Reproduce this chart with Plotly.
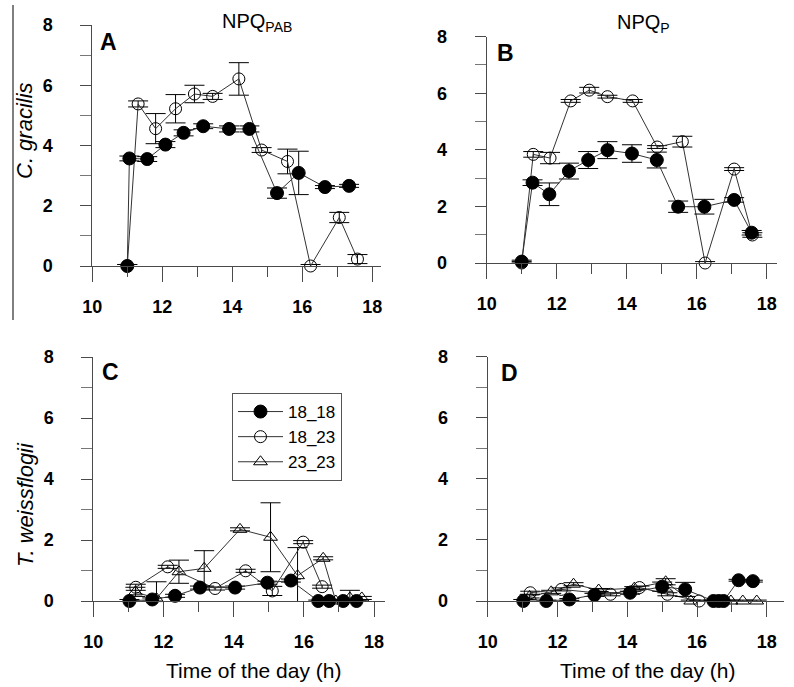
import plotly.graph_objects as go

# ---------------- data ----------------
# Panel A : C. gracilis, NPQ_PAB
A_1818_x = [11.0, 11.06, 11.57, 12.09, 12.61, 13.17, 13.91, 14.49, 15.28, 15.90, 16.65, 17.34]
A_1818_y = [0.0, 3.57, 3.55, 4.03, 4.42, 4.64, 4.55, 4.55, 2.42, 3.09, 2.62, 2.66]
A_1818_e = [0.05, 0.08, 0.08, 0.10, 0.10, 0.08, 0.10, 0.10, 0.17, 0.72, 0.05, 0.05]
A_1823_x = [11.0, 11.31, 11.81, 12.38, 12.92, 13.44, 14.19, 14.84, 15.58, 16.24, 17.06, 17.58]
A_1823_y = [0.0, 5.38, 4.56, 5.22, 5.71, 5.63, 6.21, 3.85, 3.47, 0.0, 1.61, 0.23]
A_1823_e = [0.05, 0.10, 0.50, 0.47, 0.29, 0.10, 0.54, 0.08, 0.41, 0.05, 0.17, 0.15]

# Panel B : C. gracilis, NPQ_P
B_1818_x = [11.0, 11.31, 11.79, 12.35, 12.90, 13.45, 14.15, 14.86, 15.47, 16.22, 17.07, 17.57]
B_1818_y = [0.05, 2.84, 2.43, 3.25, 3.64, 3.99, 3.87, 3.64, 1.99, 1.99, 2.23, 1.07]
B_1818_e = [0.05, 0.10, 0.40, 0.28, 0.30, 0.30, 0.31, 0.28, 0.20, 0.26, 0.08, 0.08]
B_1823_x = [11.0, 11.33, 11.81, 12.40, 12.93, 13.45, 14.17, 14.87, 15.59, 16.24, 17.07, 17.59]
B_1823_y = [0.0, 3.84, 3.71, 5.73, 6.11, 5.88, 5.73, 4.10, 4.29, 0.0, 3.32, 0.99]
B_1823_e = [0.05, 0.10, 0.20, 0.05, 0.10, 0.05, 0.05, 0.05, 0.19, 0.05, 0.05, 0.08]

# Panel C : T. weissflogii, NPQ_PAB
C_1818_x = [11.03, 11.68, 12.33, 13.04, 14.04, 14.96, 15.63, 16.41, 16.72, 17.12, 17.50]
C_1818_y = [0.0, 0.05, 0.17, 0.44, 0.44, 0.60, 0.67, 0.0, 0.0, 0.0, 0.0]
C_1818_e = [0.05, 0.05, 0.05, 0.05, 0.05, 0.05, 0.05, 0.03, 0.03, 0.03, 0.03]
C_1823_x = [11.21, 12.12, 13.47, 14.34, 15.10, 15.98, 16.52]
C_1823_y = [0.45, 1.12, 0.41, 0.99, 0.33, 1.93, 0.47]
C_1823_e = [0.10, 0.05, 0.05, 0.05, 0.15, 0.05, 0.05]
C_2323_x = [11.20, 11.80, 12.44, 13.16, 14.18, 15.05, 15.82, 16.55, 16.91, 17.31, 17.65]
C_2323_y = [0.30, 0.08, 0.96, 1.07, 2.35, 2.09, 0.83, 1.40, 0.0, 0.10, 0.10]
C_2323_e = [0.15, 0.55, 0.38, 0.58, 0.05, 1.13, 0.92, 0.05, 0.05, 0.25, 0.05]

# Panel D : T. weissflogii, NPQ_P
D_1818_x = [11.02, 11.68, 12.34, 13.06, 14.08, 15.00, 15.66, 16.47, 16.62, 16.76, 17.19, 17.60]
D_1818_y = [0.0, 0.0, 0.05, 0.20, 0.27, 0.47, 0.38, 0.0, 0.0, 0.0, 0.68, 0.65]
D_1818_e = [0.05, 0.03, 0.03, 0.05, 0.05, 0.15, 0.23, 0.03, 0.03, 0.03, 0.03, 0.03]
D_1823_x = [11.22, 12.11, 13.52, 14.35, 15.15, 16.06]
D_1823_y = [0.27, 0.38, 0.22, 0.44, 0.22, 0.0]
D_1823_e = [0.05, 0.05, 0.05, 0.05, 0.05, 0.03]
D_2323_x = [11.20, 11.82, 12.46, 13.18, 14.20, 15.10, 15.82, 16.97, 17.31, 17.71]
D_2323_y = [0.15, 0.30, 0.55, 0.36, 0.42, 0.63, 0.0, 0.0, 0.0, 0.0]
D_2323_e = [0.05, 0.05, 0.05, 0.05, 0.05, 0.10, 0.03, 0.03, 0.03, 0.03]

SERIES_NAMES = ["18_18", "18_23", "23_23"]
COLUMN_TITLES = ["NPQ<sub>PAB</sub>", "NPQ<sub>P</sub>"]
ROW_TITLES = ["<i>C. gracilis</i>", "<i>T. weissflogii</i>"]
PANEL_LETTERS = ["A", "B", "C", "D"]
X_TITLE = "Time of the day (h)"

FONT = "Liberation Sans, Arial, sans-serif"
INK = "#000000"
AXC = "#4a4a4a"

styles = {
    "18_18": dict(symbol="circle", size=13, color="black", line=dict(color="black", width=1)),
    "18_23": dict(symbol="circle-open", size=12, color="black", line=dict(color="black", width=1)),
    "23_23": dict(symbol="triangle-up-open", size=12, color="black", line=dict(color="black", width=1)),
}

panels = [
    ("x", "y", {"18_23": (A_1823_x, A_1823_y, A_1823_e), "18_18": (A_1818_x, A_1818_y, A_1818_e)}, False),
    ("x2", "y2", {"18_23": (B_1823_x, B_1823_y, B_1823_e), "18_18": (B_1818_x, B_1818_y, B_1818_e)}, False),
    ("x3", "y3", {"23_23": (C_2323_x, C_2323_y, C_2323_e), "18_23": (C_1823_x, C_1823_y, C_1823_e),
                  "18_18": (C_1818_x, C_1818_y, C_1818_e)}, True),
    ("x4", "y4", {"23_23": (D_2323_x, D_2323_y, D_2323_e), "18_23": (D_1823_x, D_1823_y, D_1823_e),
                  "18_18": (D_1818_x, D_1818_y, D_1818_e)}, False),
]

fig = go.Figure()
for xa, ya, series, show_leg in panels:
    for name, (xs, ys, es) in series.items():
        st = styles[name]
        fig.add_trace(go.Scatter(
            x=xs, y=ys, mode="lines+markers", name=name,
            xaxis=xa, yaxis=ya, cliponaxis=False,
            line=dict(color="#333333", width=1),
            marker=dict(symbol=st["symbol"], size=st["size"], color=st["color"], line=st["line"]),
            error_y=dict(type="data", array=es, visible=True, color="black", thickness=1, width=10),
            showlegend=show_leg, legendrank=SERIES_NAMES.index(name) + 1,
        ))

W, H = 794, 687
def px_x(p):
    return p / W
def px_y(p):
    return (H - p) / H

# plot areas in pixels: (left, right, top(y=8), bottom(y=0)), x max
areas = [
    (92.3, 380.9, 25.0, 266.0, 18.25),
    (486.7, 777.2, 36.7, 263.0, 18.3),
    (93.3, 384.6, 357.0, 601.0, 18.3),
    (487.7, 784.3, 356.7, 601.0, 18.5),
]

layout = dict(
    width=W, height=H, margin=dict(l=0, r=0, t=0, b=0),
    paper_bgcolor="white", plot_bgcolor="white",
    font=dict(family=FONT, color=INK),
    legend=dict(x=px_x(232), y=px_y(393), xanchor="left", yanchor="top",
                bordercolor="#555555", borderwidth=1, bgcolor="white",
                font=dict(size=17, family=FONT, color=INK), traceorder="normal",
                itemwidth=45, tracegroupgap=0),
)
for i, (l, r, t, b, xmax) in enumerate(areas):
    sx = "" if i == 0 else str(i + 1)
    layout["xaxis" + sx] = dict(
        domain=[px_x(l), px_x(r)], anchor="y" + sx, range=[10, xmax],
        tickmode="linear", tick0=10, dtick=2, ticks="outside", ticklen=15, tickwidth=1, tickcolor=AXC,
        showline=True, linecolor=AXC, linewidth=1, showgrid=False, zeroline=False,
        tickfont=dict(family=FONT, size=18, color=INK, weight="bold"),
        minor=dict(tick0=10, dtick=1, ticks="outside", ticklen=10, tickwidth=1, tickcolor=AXC, showgrid=False),
        ticklabelstandoff=9, automargin=False, fixedrange=True,
    )
    layout["yaxis" + sx] = dict(
        domain=[px_y(b), px_y(t)], anchor="x" + sx, range=[0, 8],
        tickmode="linear", tick0=0, dtick=2, ticks="outside", ticklen=11, tickwidth=1, tickcolor=AXC,
        showline=True, linecolor=AXC, linewidth=1, showgrid=False, zeroline=False,
        tickfont=dict(family=FONT, size=18, color=INK, weight="bold"),
        minor=dict(tick0=0, dtick=1, ticks="outside", ticklen=11, tickwidth=1, tickcolor="#777777", showgrid=False),
        ticklabelstandoff=24, automargin=False, fixedrange=True,
    )

ann = []
ann.append(dict(text=COLUMN_TITLES[0], x=px_x(257), y=px_y(22), font=dict(size=20)))
ann.append(dict(text=COLUMN_TITLES[1], x=px_x(643), y=px_y(24), font=dict(size=20)))
ann.append(dict(text=ROW_TITLES[0], x=px_x(25), y=px_y(131), textangle=-90, font=dict(size=22)))
ann.append(dict(text=ROW_TITLES[1], x=px_x(25), y=px_y(505), textangle=-90, font=dict(size=22)))
ann.append(dict(text=X_TITLE, x=px_x(253), y=px_y(670), font=dict(size=21)))
ann.append(dict(text=X_TITLE, x=px_x(647), y=px_y(670), font=dict(size=21)))
letter_pos = [(108, 42), (505, 53), (110, 372), (509, 373)]
for letter, (lx, ly) in zip(PANEL_LETTERS, letter_pos):
    ann.append(dict(text="<b>%s</b>" % letter, x=px_x(lx), y=px_y(ly), font=dict(size=23)))
for a in ann:
    a.update(xref="paper", yref="paper", showarrow=False, xanchor="center", yanchor="middle")
    a["font"].update(family=FONT, color=INK)
layout["annotations"] = ann

layout["shapes"] = [dict(type="line", xref="paper", yref="paper",
                         x0=px_x(13), x1=px_x(13), y0=px_y(5), y1=px_y(320),
                         line=dict(color="black", width=1))]

fig.update_layout(**layout)
fig.write_html("out.html", config={"displayModeBar": False},
               post_script="document.body.style.margin='0px';document.body.style.padding='0px';")
